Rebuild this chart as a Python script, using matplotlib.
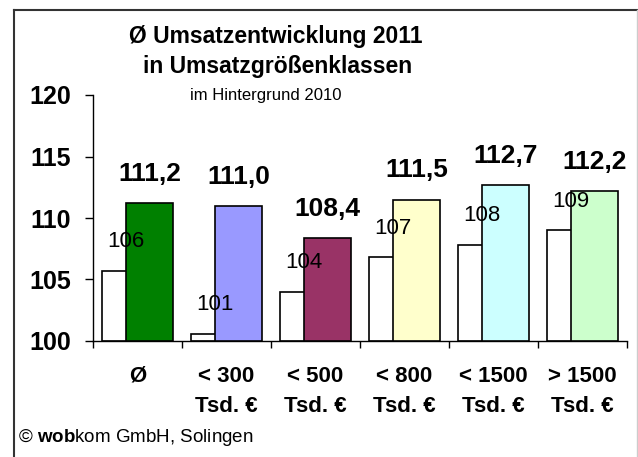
import matplotlib
matplotlib.use("Agg")
import matplotlib.pyplot as plt
from matplotlib.lines import Line2D
import numpy as np

plt.rcParams["font.family"] = ["Liberation Sans", "DejaVu Sans"]
plt.rcParams["mathtext.fontset"] = "custom"
plt.rcParams["mathtext.rm"] = "Liberation Sans"
plt.rcParams["mathtext.bf"] = "Liberation Sans:bold"

categories = ["Ø", "< 300\nTsd. €", "< 500\nTsd. €", "< 800\nTsd. €", "< 1500\nTsd. €", "> 1500\nTsd. €"]
values_2010 = [105.7, 100.6, 104.0, 106.8, 107.8, 109.0]
values_2011 = [111.2, 111.0, 108.4, 111.5, 112.7, 112.2]
colors_2011 = ["#008000", "#9999FF", "#993366", "#FFFFCC", "#CCFFFF", "#CCFFCC"]
yticks = [100, 105, 110, 115, 120]

fig = plt.figure(figsize=(6.38, 4.57), dpi=100)
ax = fig.add_axes([93 / 638, 1 - 341 / 457, (627 - 93) / 638, (341 - 95) / 457])

x = np.arange(len(categories))
width = 0.53
ax.bar(x + 0.365, [v - 100 for v in values_2010], width, bottom=100,
       color="white", edgecolor="black", linewidth=1.2, zorder=2)
ax.bar(x + 0.635, [v - 100 for v in values_2011], width, bottom=100,
       color=colors_2011, edgecolor="black", linewidth=1.2, zorder=3)

for i, v in enumerate(values_2010):
    ax.annotate(f"{v:.0f}", (x[i] + 0.365, v), xytext=(0, 21), textcoords="offset points",
                ha="center", va="center", fontsize=16, zorder=5)
for i, v in enumerate(values_2011):
    ax.annotate(f"{v:.1f}".replace(".", ","), (x[i] + 0.635, v), xytext=(0, 21),
                textcoords="offset points", ha="center", va="center",
                fontsize=19, fontweight="bold", zorder=5)

ax.set_xlim(0, len(categories))
ax.set_ylim(100, 120)
ax.set_yticks(yticks)
ax.set_yticklabels([str(t) for t in yticks], fontsize=18, fontweight="bold")
ax.tick_params(axis="y", length=6, width=1, pad=10)
ax.set_xticks(np.arange(len(categories) + 1))
ax.set_xticklabels([])
ax.tick_params(axis="x", which="major", length=5, width=1)
ax.set_xticks(x + 0.5, minor=True)
ax.set_xticklabels(categories, minor=True, fontsize=16, fontweight="bold", linespacing=1.55)
ax.tick_params(axis="x", which="minor", length=0, pad=18)
for side in ["top", "right"]:
    ax.spines[side].set_visible(False)
for side in ["left", "bottom"]:
    ax.spines[side].set_linewidth(1)

fig.text(276 / 638, 1 - 36 / 457, "Ø Umsatzentwicklung 2011", ha="center", va="center",
         fontsize=16.5, fontweight="bold")
fig.text(278 / 638, 1 - 66 / 457, "in Umsatzgrößenklassen", ha="center", va="center",
         fontsize=16.5, fontweight="bold")
fig.text(266 / 638, 1 - 96 / 457, "im Hintergrund 2010", ha="center", va="center", fontsize=12)

fig.text(18 / 638, 1 - 437 / 457, r"© $\mathbf{wob}$kom GmbH, Solingen", ha="left", va="center",
         fontsize=13.5)

fig.add_artist(Line2D([14 / 638, 14 / 638], [0, 1 - 10 / 457], transform=fig.transFigure,
                      color="#333333", linewidth=1.5))
fig.add_artist(Line2D([14 / 638, 637 / 638], [1 - 10 / 457, 1 - 10 / 457], transform=fig.transFigure,
                      color="#333333", linewidth=1.5))
fig.add_artist(Line2D([636.5 / 638, 636.5 / 638], [0, 1 - 10 / 457], transform=fig.transFigure,
                      color="#cccccc", linewidth=1))

fig.savefig("out.png", dpi=100)
